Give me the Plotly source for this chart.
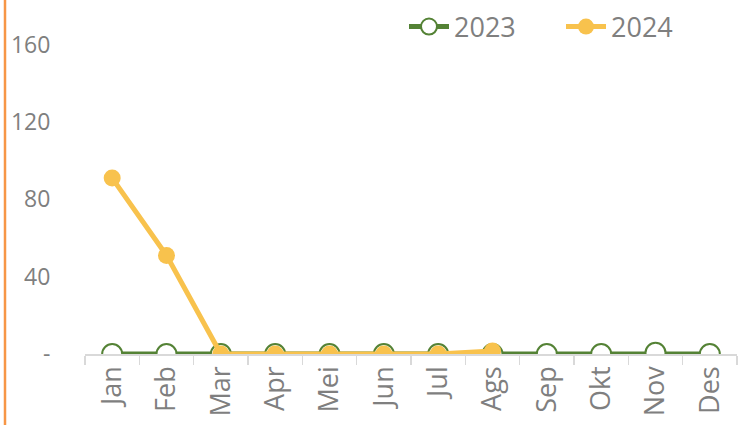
import plotly.graph_objects as go

months = ["Jan", "Feb", "Mar", "Apr", "Mei", "Jun", "Jul", "Ags", "Sep", "Okt", "Nov", "Des"]
v2023 = [0, 0, 0, 0, 0, 0, 0, 0, 0, 0, 0.6, 0]
v2024 = [91, 51, 0, 0, 0, 0, 0, 1.5, None, None, None, None]
tick_vals = [0, 40, 80, 120, 160]
tick_text = ["-", "40", "80", "120", "160"]

GREEN = "#548235"
GOLD = "#F8C24D"
GRAY = "#7f7f7f"
FONT = "Open Sans"

fig = go.Figure()
fig.add_trace(go.Scatter(
    x=months, y=v2023, name="2023", mode="lines+markers",
    line=dict(color=GREEN, width=5),
    marker=dict(symbol="circle", size=20, color="white", line=dict(color=GREEN, width=2)),
))
fig.add_trace(go.Scatter(
    x=months, y=v2024, name="2024", mode="lines+markers",
    line=dict(color=GOLD, width=5),
    marker=dict(symbol="circle", size=17, color=GOLD, line=dict(color=GOLD, width=0)),
))

W, H = 751, 425
ml, mr, mt, mb = 85, 14, 6, 71
ph = H - mt - mb
pw = W - ml - mr

fig.update_layout(
    width=W, height=H,
    margin=dict(l=ml, r=mr, t=mt, b=mb, pad=0, autoexpand=False),
    paper_bgcolor="white", plot_bgcolor="white",
    font=dict(family=FONT, color=GRAY),
    showlegend=True,
    legend=dict(
        orientation="h", x=(404 - ml) / pw, xanchor="left",
        y=(H - mb - 27) / ph, yanchor="middle",
        font=dict(size=27, color=GRAY, family=FONT),
        bgcolor="rgba(0,0,0,0)", itemwidth=40, tracegroupgap=0,
        entrywidth=102, entrywidthmode="pixels",
    ),
    xaxis=dict(
        type="category", range=[-0.5, 11.5], automargin=False,
        showline=True, linecolor="#d9d9d9", linewidth=1.5,
        ticks="outside", tickson="boundaries", ticklen=9, tickcolor="#d9d9d9", tickwidth=1.5,
        tickangle=-90, tickfont=dict(size=27, color=GRAY, family=FONT),
        showgrid=False, zeroline=False, fixedrange=True,
    ),
    yaxis=dict(
        range=[0, 180], tickvals=tick_vals, ticktext=tick_text, automargin=False,
        showline=False, showgrid=False, zeroline=False,
        ticks="outside", ticklen=29, tickcolor="rgba(0,0,0,0)",
        tickfont=dict(size=23, color=GRAY, family=FONT), fixedrange=True,
    ),
    shapes=[dict(
        type="line", xref="paper", yref="paper",
        x0=(5 - ml) / pw, x1=(5 - ml) / pw, y0=-mb / ph, y1=1 + mt / ph,
        line=dict(color="#F79646", width=2.5),
    )],
)

fig.write_html(
    "out.html",
    config={"displayModeBar": False, "staticPlot": True},
    post_script="document.body.style.margin='0';document.body.style.overflow='hidden';",
)
